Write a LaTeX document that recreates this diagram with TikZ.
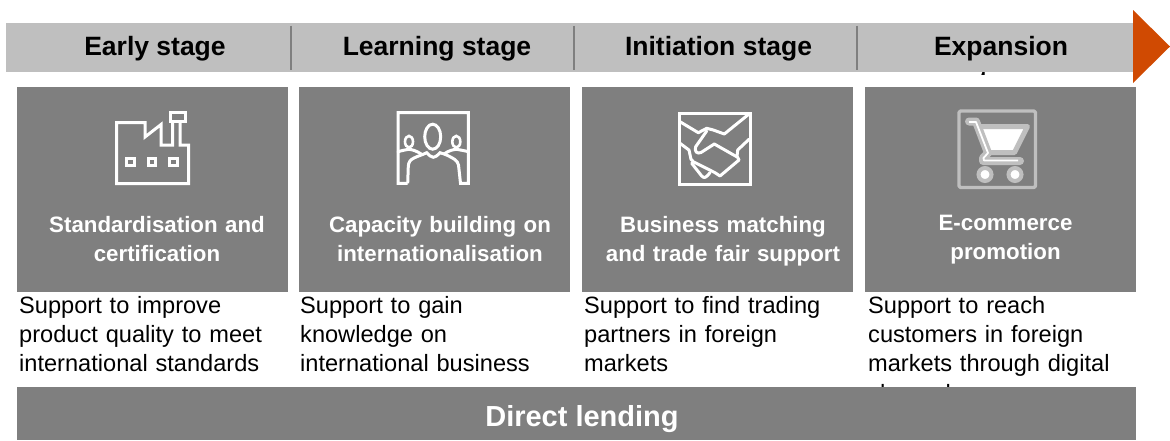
\documentclass[tikz,border=0pt]{standalone}
\usepackage{fontspec}
\setmainfont{Liberation Sans}
\definecolor{hdr}{HTML}{BFBFBF}
\definecolor{box}{HTML}{7F7F7F}
\definecolor{sep}{HTML}{7F7F7F}
\definecolor{arr}{HTML}{D04A02}
\tikzset{
 x=1pt,y=-1pt,
 hdrlabel/.style={font=\fontsize{26.5}{26.5}\selectfont\bfseries,text=black,inner sep=0pt,anchor=base},
 boxlabel/.style={font=\fontsize{22.3}{29}\selectfont\bfseries,text=white,inner sep=0pt,align=center,text width=262pt},
 desc/.style={font=\fontsize{23.6}{29.3}\selectfont,text=black,inner sep=0pt,anchor=north west,align=left,text width=270pt},
 panel/.style={fill=box,draw=none},
 icon/.style={draw=white,line width=3pt,fill=none,line join=miter},
 iconr/.style={icon,line join=round,line cap=round},
 icong/.style={draw=hdr,line width=3.3pt,line join=round}
}
\begin{document}
\begin{tikzpicture}
\useasboundingbox (0,0) rectangle (1170,440);
% header
\fill[hdr] (6,23) rectangle (1138,72);
\foreach \x in {291,574,857}{\draw[sep,line width=2pt] (\x,25.5) -- (\x,70);}
\node[hdrlabel] (h1) at (155,55) {Early stage};
\node[hdrlabel] (h2) at (437,55) {Learning stage};
\node[hdrlabel] (h3) at (718.5,55) {Initiation stage};
\node[hdrlabel] (h4) at (1001,55) {Expansion};
\begin{scope}
\clip (979,72) rectangle (988,74.5);
\node[hdrlabel] (h4b) at (999,89.5) {stage};
\end{scope}
\fill[arr] (1133,10) -- (1170,46.5) -- (1133,83) -- cycle;
% panels
\fill[panel] (17,87) rectangle (288,292);
\fill[panel] (299,87) rectangle (570,292);
\fill[panel] (582,87) rectangle (853,292);
\fill[panel] (865,87) rectangle (1136,292);
% factory
\draw[icon] (172.5,122.5) -- (172.5,145) -- (161,145) -- (161,124.5) -- (145,137) -- (145,122.5) -- (116.5,122.5) -- (116.5,183.5) -- (188.5,183.5) -- (188.5,145) -- (180,145) -- (180,122.5);
\draw[icon] (170,112.5) rectangle (185,121.5);
\draw[icon] (126.5,158) rectangle (134,165.5);
\draw[icon] (148,158) rectangle (155.5,165.5);
\draw[icon] (169.5,158) rectangle (177.5,165.5);
% people
\draw[icon] (407.7,183.3) -- (398,183.3) -- (398,112.7) -- (468.3,112.7) -- (468.3,183.3) -- (460.5,183.3) -- (458.5,165) .. controls (457.5,160) and (453,158.5) .. (450,156.7) .. controls (446,154.5) and (443,153.5) .. (440,152.7) .. controls (437,156) and (435,157.3) .. (433.3,157.3) .. controls (431,157.3) and (429,155) .. (426.7,152.7) .. controls (422,155) and (418,156) .. (414,158) .. controls (410,160) and (408.7,162) .. (408.3,166) -- (407.7,183.3);
\draw[iconr] (398,151.7) .. controls (402,150.5) and (405,150) .. (408.3,149.3) .. controls (412,149.5) and (416,150.5) .. (422,154.5);
\draw[iconr] (468.3,151.7) .. controls (464,150.5) and (460,150) .. (456.7,149.3) .. controls (453,149.5) and (449,150.5) .. (444,154);
\draw[icon] (432.7,136.7) ellipse (8 and 12.5);
\draw[icon,line width=2.6pt] (409,141.7) ellipse (4 and 5.8);
\draw[icon,line width=2.6pt] (456.3,141.7) ellipse (4 and 5.8);
% handshake
\draw[icon] (679,113) rectangle (750,184);
\draw[iconr] (680,121.7) -- (698.3,132.7) -- (706.7,128.3) -- (713.3,130) -- (724.3,134) -- (749,114);
\draw[iconr] (706.7,131) -- (695.7,146.7) .. controls (694,151) and (697,154.5) .. (701,152.5) -- (714.3,144) -- (737.7,157.3) -- (739,160) -- (720,176) -- (715,172.7) -- (693.3,161.7) -- (691,159.3) -- (689,150) -- (680,143.3);
\draw[iconr] (749,139.3) -- (737.7,150) -- (737,156.7);
\draw[iconr] (691.7,163.3) -- (701.7,176) .. controls (704,178.5) and (706,178) .. (710,172.7);
% cart
\draw[icong,rounded corners=1.5pt] (959,111) rectangle (1035.5,187.5);
\draw[draw=hdr,fill=white,line width=5pt,line join=round] (979,126.5) -- (1027.5,126.5) -- (1014.5,152.5) -- (987,152.5) -- cycle;
\draw[draw=hdr,line width=8pt,line join=round,line cap=round] (969,121.5) -- (976,121.5) -- (988,153) -- (983,158) -- (983,161) -- (1020,161);
\draw[white,line width=1.8pt,line join=round] (969,122) -- (976,122) -- (988,153) -- (983.5,158) -- (984,160.5) -- (1018,160.5);
\draw[draw=hdr,fill=white,line width=4pt] (985,174.5) circle (6.5);
\draw[draw=hdr,fill=white,line width=4pt] (1015,174.5) circle (6.5);
% labels
\node[boxlabel] (l1) at (157,239.5) {Standardisation and\\certification};
\node[boxlabel] (l2) at (440,239.5) {Capacity building on\\internationalisation};
\node[boxlabel] (l3) at (723,241) {Business matching\\and trade fair support};
\node[boxlabel] (l4) at (1005.5,240) {E-commerce\\promotion};
% descriptions
\node[desc] (d1) at (19,296) {Support to improve\\product quality to meet\\international standards};
\node[desc] (d2) at (300,296) {Support to gain\\knowledge on\\international business};
\node[desc] (d3) at (584,296) {Support to find trading\\partners in foreign\\markets};
\node[desc] (d4) at (868,296) {Support to reach\\customers in foreign\\markets through digital\\channels};
% bottom
\fill[panel] (17,387) rectangle (1136,440);
\node[font=\fontsize{29}{29}\selectfont\bfseries,text=white,inner sep=0pt,anchor=base] (dl) at (582,426) {Direct lending};
\end{tikzpicture}
\end{document}
